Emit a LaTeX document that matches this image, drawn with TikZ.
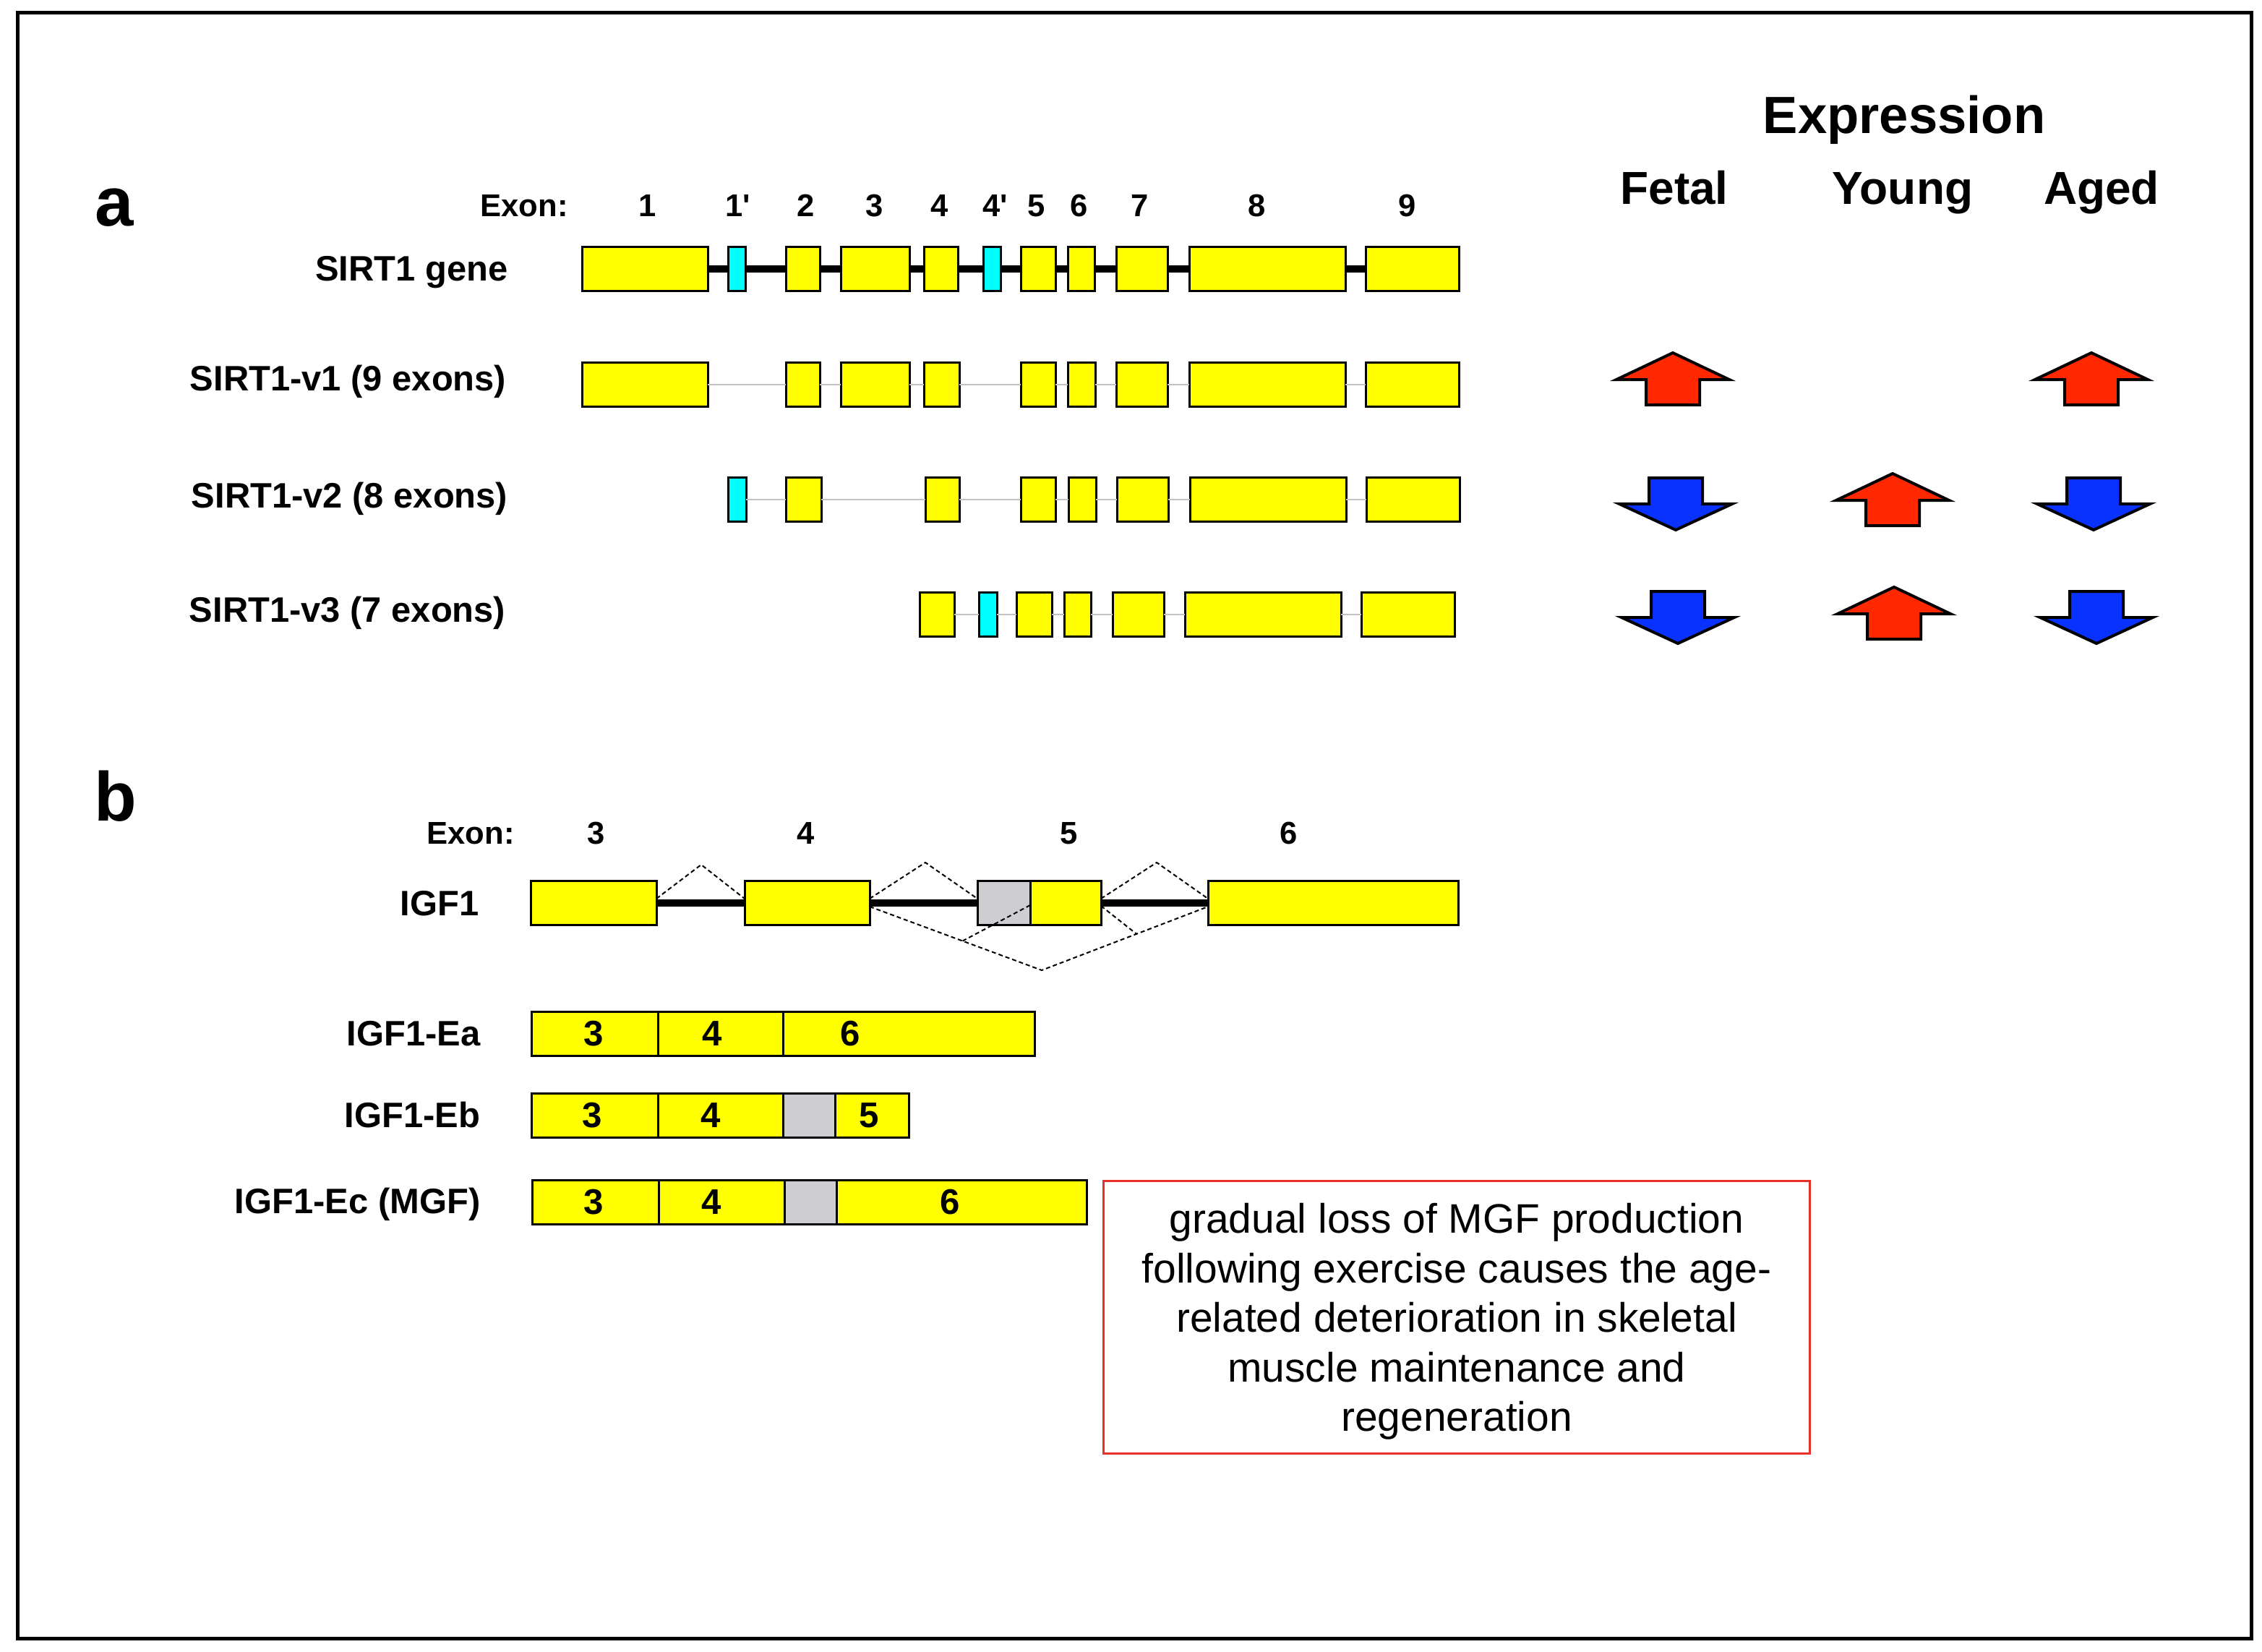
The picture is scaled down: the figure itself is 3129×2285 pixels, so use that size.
\documentclass[tikz,border=0pt]{standalone}
\usepackage{fontspec}
\setmainfont{Liberation Sans}
\usetikzlibrary{positioning,calc}

\definecolor{exonyellow}{RGB}{255,255,0}
\definecolor{exoncyan}{RGB}{0,255,255}
\definecolor{exongray}{RGB}{206,206,210}
\definecolor{upred}{RGB}{255,40,0}
\definecolor{downblue}{RGB}{10,50,255}
\definecolor{notered}{RGB}{232,50,40}
\definecolor{introngray}{RGB}{195,195,195}

\begin{document}
\begin{tikzpicture}[
    x=0.01cm, y=-0.01cm,
    exon/.style={draw=black, fill=exonyellow, line width=0.03cm, minimum height=0.6cm, inner sep=0pt, outer sep=0pt},
    intron/.style={line width=0.1cm, draw=black},
    splice/.style={line width=0.02cm, dash pattern=on 0.06cm off 0.04cm},
    thin intron/.style={line width=0.02cm, draw=introngray},
    exprup/.style={draw=black, fill=upred, line width=0.04cm},
    exprdown/.style={draw=black, fill=downblue, line width=0.04cm},
    panel/.style={font=\bfseries\fontsize{27.3}{30}\selectfont, anchor=base},
    head/.style={font=\bfseries\fontsize{20.6}{24}\selectfont, anchor=base},
    stage/.style={font=\bfseries\fontsize{18.2}{22}\selectfont, anchor=base},
    rowlabel/.style={font=\bfseries\fontsize{13.9}{16}\selectfont, anchor=base east, inner sep=0pt},
    exonnum/.style={font=\bfseries\fontsize{12.4}{14}\selectfont, anchor=base},
    cellnum/.style={font=\bfseries\fontsize{14}{16}\selectfont},
    notebox/.style={draw=notered, line width=0.03cm, minimum width=9.76cm, minimum height=3.77cm},
    notetext/.style={align=center, font=\fontsize{16.2}{19.5}\selectfont},
    uparr/.pic={\draw[exprup] (0,-36) -- (78,1) -- (37,1) -- (37,36) -- (-37,36) -- (-37,1) -- (-78,1) -- cycle;},
    downarr/.pic={\draw[exprdown] (0,36) -- (78,0) -- (37,0) -- (37,-36) -- (-37,-36) -- (-37,0) -- (-78,0) -- cycle;}
]
    \useasboundingbox (0,0) rectangle (3129,2285);
    \draw[line width=0.05cm] (24.5,17.5) rectangle (3114,2266);

    % --- Panel a: SIRT1 ---
    \node[panel] (pa) at (158,313) {a};
    \node[exonnum] (exa) at (725,300) {Exon:};
    \foreach \t/\x in {1/896, 1\textquotesingle/1021, 2/1115, 3/1210, 4/1300, 4\textquotesingle/1377, 5/1434, 6/1493, 7/1577, 8/1739, 9/1947}
        \node[exonnum] (na\x) at (\x,300) {\t};

    \node[rowlabel] (lg) at (703,389) {SIRT1 gene};
    \node[rowlabel] (lv1) at (701,541) {SIRT1-v1 (9 exons)};
    \node[rowlabel] (lv2) at (703,702) {SIRT1-v2 (8 exons)};
    \node[rowlabel] (lv3) at (700,860) {SIRT1-v3 (7 exons)};

    % gene
    \foreach \nm/\l/\r/\fc in {g1/805/979/exonyellow, g1p/1007/1031/exoncyan, g2/1087/1134/exonyellow, g3/1163/1258/exonyellow, g4/1278/1325/exonyellow, g4p/1360/1384/exoncyan, g5/1412/1460/exonyellow, g6/1477/1514/exonyellow, g7/1544/1615/exonyellow, g8/1645/1861/exonyellow, g9/1889/2018/exonyellow}
        \node[exon, fill=\fc, minimum width={(\r-\l)*0.01cm}] (\nm) at ({(\l+\r)/2},372) {};
    \foreach \a/\b in {g1/g1p, g1p/g2, g2/g3, g3/g4, g4/g4p, g4p/g5, g5/g6, g6/g7, g7/g8, g8/g9}
        \draw[intron] (\a.east) -- (\b.west);

    % variant 1
    \foreach \nm/\l/\r in {va1/805/979, va2/1087/1134, va3/1163/1258, va4/1278/1327, va5/1412/1460, va6/1477/1515, va7/1544/1615, va8/1645/1861, va9/1889/2018}
        \node[exon, minimum width={(\r-\l)*0.01cm}] (\nm) at ({(\l+\r)/2},532) {};
    \foreach \a/\b in {va1/va2, va2/va3, va3/va4, va4/va5, va5/va6, va6/va7, va7/va8, va8/va9}
        \draw[thin intron] (\a.east) -- (\b.west);

    % variant 2
    \foreach \nm/\l/\r/\fc in {vb1p/1007/1032/exoncyan, vb2/1087/1136/exonyellow, vb4/1280/1327/exonyellow, vb5/1412/1460/exonyellow, vb6/1478/1516/exonyellow, vb7/1545/1616/exonyellow, vb8/1646/1862/exonyellow, vb9/1890/2019/exonyellow}
        \node[exon, fill=\fc, minimum width={(\r-\l)*0.01cm}] (\nm) at ({(\l+\r)/2},691) {};
    \foreach \a/\b in {vb1p/vb2, vb2/vb4, vb4/vb5, vb5/vb6, vb6/vb7, vb7/vb8, vb8/vb9}
        \draw[thin intron] (\a.east) -- (\b.west);

    % variant 3
    \foreach \nm/\l/\r/\fc in {vc4/1272/1320/exonyellow, vc4p/1354/1379/exoncyan, vc5/1406/1455/exonyellow, vc6/1472/1509/exonyellow, vc7/1539/1610/exonyellow, vc8/1639/1855/exonyellow, vc9/1883/2012/exonyellow}
        \node[exon, fill=\fc, minimum width={(\r-\l)*0.01cm}] (\nm) at ({(\l+\r)/2},850) {};
    \foreach \a/\b in {vc4/vc4p, vc4p/vc5, vc5/vc6, vc6/vc7, vc7/vc8, vc8/vc9}
        \draw[thin intron] (\a.east) -- (\b.west);

    % --- Expression ---
    \node[head] (expr) at (2634,185) {Expression};
    \node[stage] (fetal) at (2316,282) {Fetal};
    \node[stage] (young) at (2632,282) {Young};
    \node[stage] (aged) at (2907,282) {Aged};

    \pic (uf1) at (2314,524) {uparr};
    \pic (ua1) at (2893,524) {uparr};
    \pic (df2) at (2318,697) {downarr};
    \pic (uy2) at (2618,691) {uparr};
    \pic (da2) at (2896,697) {downarr};
    \pic (df3) at (2321,854) {downarr};
    \pic (uy3) at (2620,848) {uparr};
    \pic (da3) at (2900,854) {downarr};

    % --- Panel b: IGF1 ---
    \node[panel] (pb) at (160,1135) {b};
    \node[exonnum] (exb) at (651,1167) {Exon:};
    \foreach \t/\x in {3/825, 4/1115, 5/1479, 6/1783}
        \node[exonnum] (nb\x) at (\x,1167) {\t};

    \node[rowlabel] (ligf) at (663,1266) {IGF1};
    \foreach \nm/\l/\r/\fc in {i3/734/908/exonyellow, i4/1030/1203/exonyellow, ig/1352/1425/exongray, i5/1425/1523/exonyellow, i6/1671/2017/exonyellow}
        \node[exon, fill=\fc, minimum width={(\r-\l)*0.01cm}] (\nm) at ({(\l+\r)/2},1249) {};
    \foreach \a/\b in {i3/i4, i4/ig, i5/i6}
        \draw[intron] (\a.east) -- (\b.west);

    \coordinate (p1) at (970,1196);
    \coordinate (p2) at (1280,1193);
    \coordinate (p3) at (1600,1193);
    \coordinate (vb) at (1441,1342);
    \draw[splice] ([yshift=0.06cm]i3.east) -- (p1) -- ([yshift=0.06cm]i4.west);
    \draw[splice] ([yshift=0.06cm]i4.east) -- (p2) -- ([yshift=0.06cm]ig.west);
    \draw[splice] ([yshift=0.06cm]i5.east) -- (p3) -- ([yshift=0.06cm]i6.west);
    \draw[splice] ([yshift=-0.05cm]i4.east) -- (vb) -- ([yshift=-0.05cm]i6.west);
    \draw[splice] ([yshift=-0.03cm]i5.west) -- ($([yshift=-0.05cm]i4.east)!0.54!(vb)$);
    \draw[splice] ([yshift=-0.04cm]i5.east) -- ($(vb)!0.57!([yshift=-0.05cm]i6.west)$);

    % transcripts
    \node[rowlabel] (lea) at (665,1446) {IGF1-Ea};
    \node[exon, minimum width=1.74cm] (ea3) at (823,1430) {};
    \node[exon, minimum width=1.73cm, right=0pt of ea3] (ea4) {};
    \node[exon, minimum width=3.48cm, right=0pt of ea4] (ea6) {};

    \node[rowlabel] (leb) at (665,1559) {IGF1-Eb};
    \node[exon, minimum width=1.74cm] (eb3) at (823,1543) {};
    \node[exon, minimum width=1.73cm, right=0pt of eb3] (eb4) {};
    \node[exon, fill=exongray, minimum width=0.72cm, right=0pt of eb4] (ebg) {};
    \node[exon, minimum width=1.02cm, right=0pt of ebg] (eb5) {};

    \node[rowlabel] (lec) at (665,1678) {IGF1-Ec (MGF)};
    \node[exon, minimum width=1.74cm] (ec3) at (824,1663) {};
    \node[exon, minimum width=1.74cm, right=0pt of ec3] (ec4) {};
    \node[exon, fill=exongray, minimum width=0.72cm, right=0pt of ec4] (ecg) {};
    \node[exon, minimum width=3.46cm, right=0pt of ecg] (ec6) {};

    \foreach \t/\x/\y in {3/821/1430, 4/985/1430, 6/1176/1430, 3/819/1543, 4/983/1543, 5/1202/1543, 3/821/1663, 4/984/1663, 6/1314/1663}
        \node[cellnum] (c\x-\y) at (\x,\y) {\t};

    % note
    \node[notebox] (mgf) at (2015,1822) {};
    \node[notetext] (mgftext) at (2015,1828) {gradual loss of MGF production\\following exercise causes the age-\\related deterioration in skeletal\\muscle maintenance and\\regeneration};

\end{tikzpicture}
\end{document}
